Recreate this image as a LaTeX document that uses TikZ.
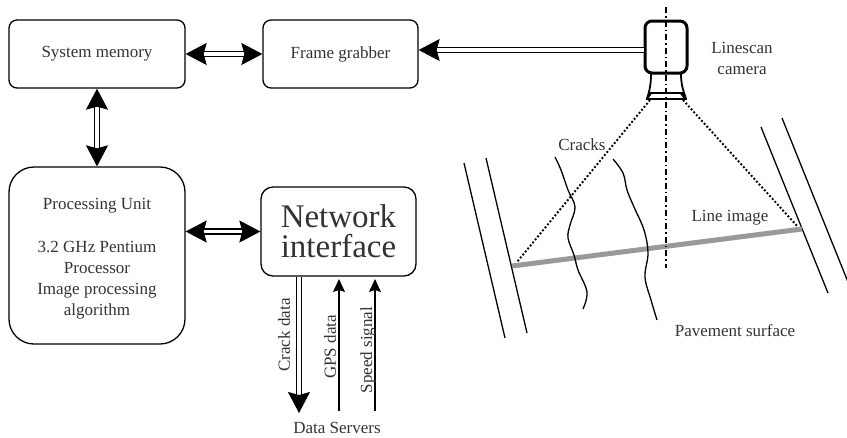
\documentclass[tikz,border=0pt]{standalone}
\usepackage{fontspec}
\setmainfont{Liberation Serif}
\usetikzlibrary{arrows.meta}
\definecolor{txt}{HTML}{333333}
\tikzset{
  box/.style={draw, line width=1.3pt, rounded corners=8pt, text=txt,
    font=\fontsize{17}{21}\selectfont, align=center, inner sep=0pt},
  bigtip/.tip={Stealth[length=21pt,width=22pt,inset=3pt]},
  smalltip/.tip={Stealth[length=13pt,width=12pt,inset=2pt]},
  dbl/.style={draw, line width=1.6pt, double, double distance=3.4pt},
  thin arrow/.style={draw, line width=1.3pt, -smalltip},
  lbl/.style={text=txt, font=\fontsize{17}{21}\selectfont, inner sep=0pt, align=center},
  road/.style={line width=1.3pt},
  crack/.style={line width=1.3pt, smooth, tension=0.6},
  beam/.style={line width=1.9pt, dotted},
  axis/.style={line width=1.3pt, dash pattern=on 6pt off 3pt on 1.5pt off 3pt},
}
\begin{document}
\begin{tikzpicture}[x=1pt,y=-1pt]
\useasboundingbox (0,0) rectangle (847,437);

% blocks of the processing system
\node[box, minimum width=176pt, minimum height=68pt] (mem) at (97,54) {System memory};
\node[box, minimum width=155pt, minimum height=68pt] (fg) at (340.5,54) {Frame grabber};
\node[box, minimum width=176pt, minimum height=177pt, rounded corners=25pt] (pu) at (97,255.5) {};
\node[lbl] (pu1) at (97,206) {Processing Unit};
\node[lbl] (pu2) at (97,280) {3.2 GHz Pentium\\Processor\\Image processing\\algorithm};
\node[box, minimum width=155pt, minimum height=89pt, rounded corners=12pt,
  font=\fontsize{33}{30}\selectfont] (ni) at (338.5,231.5) {Network\\interface};

% data links between blocks
\draw[dbl, bigtip-bigtip] (mem.east) -- (fg.west);
\draw[dbl, bigtip-bigtip] (mem.south) -- (pu.north);
\draw[dbl, bigtip-bigtip] (pu.east |- ni.west) -- (ni.west);

% camera
\node[draw, line width=3pt, rounded corners=7pt, minimum width=42pt, minimum height=52pt] (cam) at (666,47) {};
\draw[line width=1.8pt] (651,74) .. controls (651,86) and (649,92) .. (647,99);
\draw[line width=1.8pt] (681,74) .. controls (681,86) and (684,92) .. (686,99);
\draw[line width=2pt] (649,92.5) -- (684,92.5);
\draw[line width=2.4pt] (646,99) -- (687,99);
\fill (649,92) -- (653,92) -- (648,99) -- (646,99) -- cycle;
\fill (683,92) -- (679,92) -- (684,99) -- (687,99) -- cycle;
\coordinate (lensL) at (650,100);
\coordinate (lensR) at (683,100);
\node[lbl] (camlbl) at (742,58) {Linescan\\camera};
\draw[dbl, -bigtip] (cam.west |- 0,50) -- (fg.east |- 0,50);

% outputs of the network interface
\node[lbl, anchor=base] (ds) at (337,433) {Data Servers};
\coordinate (crackEnd) at (299,413);
\coordinate (gpsStart) at (339,411);
\coordinate (spdStart) at (375,411);
\draw[dbl, -bigtip] (ni.south -| crackEnd) -- (crackEnd);
\draw[thin arrow] (gpsStart) -- (gpsStart |- 0,279);
\draw[thin arrow] (spdStart) -- (spdStart |- 0,279);
\node[lbl, rotate=90] (cdl) at (284,335) {Crack data};
\node[lbl, rotate=90] (gpl) at (330,347) {GPS data};
\node[lbl, rotate=90] (spl) at (368,350) {Speed signal};

% pavement
\draw[road] (464,163) -- (505,338);
\draw[road] (486,158) -- (527,333);
\draw[road] (761,127) -- (828,293);
\draw[road] (782,118) -- (850,287);
\coordinate (imgL) at (512,266);
\coordinate (imgR) at (802,229);
\draw[line width=5pt, black!40] (imgL) -- (imgR);
\draw[beam] (lensL) -- (517,262);
\draw[beam] (lensR) -- (798,227);
\draw[axis] (666,7) -- (666,268);
\draw[crack] plot coordinates {(555,157) (561,170) (568,190) (575,207) (570,225) (568,238) (574,255) (578,270) (587,292) (583,309)};
\draw[crack] plot coordinates {(613,159) (623,173) (627,190) (634,207) (644,230) (648,253) (645,277) (651,300) (657,320)};
\node[lbl] (cracks) at (582,145) {Cracks};
\node[lbl] (lineimg) at (730,218) {Line image};
\node[lbl] (pave) at (735,331) {Pavement surface};
\end{tikzpicture}
\end{document}
